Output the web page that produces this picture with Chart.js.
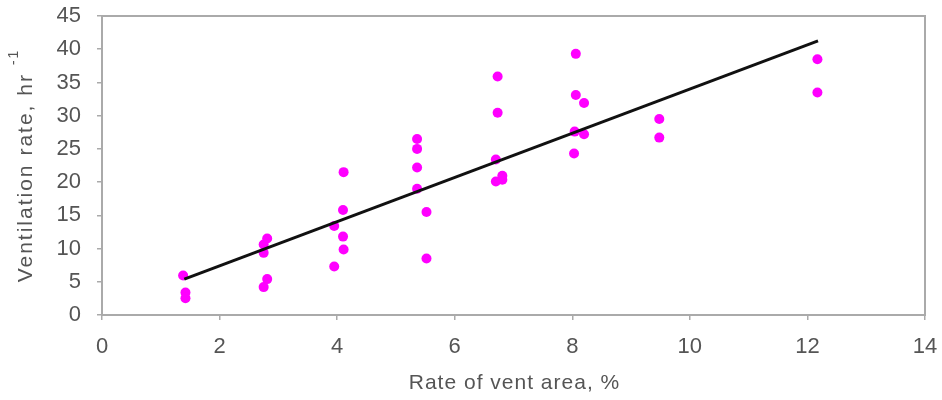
<!DOCTYPE html>
<html>
<head>
<meta charset="utf-8">
<script src="https://cdn.jsdelivr.net/npm/chart.js@4"></script>
<style>
  html, body { margin: 0; padding: 0; background: #fff; }
  #wrap { width: 942px; height: 400px; }
</style>
</head>
<body>
<div id="wrap"><canvas id="c" width="942" height="400"></canvas></div>
<script>
// Measured ventilation rate vs. rate of vent area
const ventArea = [1.38, 1.42, 1.42, 2.75, 2.81, 2.75, 2.75, 2.81, 3.95, 3.95, 4.11, 4.10, 4.10, 4.11,
                  5.36, 5.36, 5.36, 5.36, 5.52, 5.52, 6.73, 6.73, 6.70, 6.70, 6.81, 6.81,
                  8.06, 8.06, 8.20, 8.04, 8.20, 8.03, 9.48, 9.48, 12.17, 12.17];
const ventRate = [5.95, 3.38, 2.53, 4.2, 5.4, 9.35, 10.6, 11.5, 7.3, 13.4, 9.85, 11.8, 15.8, 21.5,
                  26.5, 25.0, 22.2, 19.0, 15.5, 8.5, 35.9, 30.45, 23.4, 20.1, 20.95, 20.35,
                  39.3, 33.1, 31.9, 27.6, 27.2, 24.3, 29.5, 26.7, 38.5, 33.5];

// Fitted regression line end points
const fitX = [1.40, 12.18];
const fitY = [5.4, 41.25];

const xTicks = [0, 2, 4, 6, 8, 10, 12, 14];
const yTicks = [0, 5, 10, 15, 20, 25, 30, 35, 40, 45];

const xTitle = 'Rate of vent area, %';
const yTitle = 'Ventilation rate, hr';
const yTitleSup = '-1';

const textColor = '#555';
const frameColor = '#aaa';
const fontFamily = '"Liberation Sans", Arial, sans-serif';

// Plot frame and axis titles (titles drawn by hand for the superscript unit)
const decorations = {
  id: 'decorations',
  afterDraw(chart) {
    const a = chart.chartArea, ctx = chart.ctx;
    ctx.save();
    ctx.strokeStyle = frameColor;
    ctx.lineWidth = 2;
    ctx.strokeRect(a.left, a.top, a.right - a.left, a.bottom - a.top);

    ctx.fillStyle = textColor;
    ctx.textBaseline = 'middle';
    ctx.letterSpacing = '1px';

    // x title
    ctx.font = '21px ' + fontFamily;
    ctx.textAlign = 'center';
    ctx.fillText(xTitle, (a.left + a.right) / 2 + 1, 383);

    // y title, rotated, with superscript
    ctx.letterSpacing = '2px';
    ctx.font = '21px ' + fontFamily;
    const wMain = ctx.measureText(yTitle).width;
    ctx.font = '14px ' + fontFamily;
    const wSup = ctx.measureText(yTitleSup).width;
    const gap = 8;
    const total = wMain + gap + wSup;
    ctx.translate(26, (a.top + a.bottom) / 2);
    ctx.rotate(-Math.PI / 2);
    ctx.textAlign = 'left';
    ctx.font = '21px ' + fontFamily;
    ctx.fillText(yTitle, -total / 2, 0);
    ctx.font = '14px ' + fontFamily;
    ctx.fillText(yTitleSup, -total / 2 + wMain + gap, -12);
    ctx.restore();
  }
};

new Chart(document.getElementById('c'), {
  type: 'scatter',
  data: {
    datasets: [
      {
        type: 'line',
        data: fitX.map((x, i) => ({ x, y: fitY[i] })),
        borderColor: '#111',
        borderWidth: 3,
        pointRadius: 0,
        fill: false,
        order: 1
      },
      {
        data: ventArea.map((x, i) => ({ x, y: ventRate[i] })),
        backgroundColor: '#ff00ff',
        borderColor: '#ff00ff',
        pointRadius: 5,
        borderWidth: 0,
        order: 2
      }
    ]
  },
  options: {
    responsive: false,
    animation: false,
    layout: { padding: { left: 6, top: 16, right: 17, bottom: 0 } },
    plugins: { legend: { display: false }, tooltip: { enabled: false } },
    scales: {
      x: {
        type: 'linear',
        min: 0, max: 14,
        afterBuildTicks(s) { s.ticks = xTicks.map(v => ({ value: v })); },
        afterFit(s) { s.height = 85; s.paddingLeft = 0; s.paddingRight = 0; },
        grid: { drawOnChartArea: false, tickLength: 5, color: frameColor, lineWidth: 1.5 },
        border: { display: false },
        ticks: { color: textColor, font: { family: fontFamily, size: 22 }, padding: 14 },
        title: { display: false }
      },
      y: {
        type: 'linear',
        min: 0, max: 45,
        afterBuildTicks(s) { s.ticks = yTicks.map(v => ({ value: v })); },
        afterFit(s) { s.width = 96; s.paddingTop = 0; s.paddingBottom = 0; },
        grid: { drawOnChartArea: false, tickLength: 5, color: frameColor, lineWidth: 1.5 },
        border: { display: false },
        ticks: { color: textColor, font: { family: fontFamily, size: 22 }, padding: 16 },
        title: { display: false }
      }
    }
  },
  plugins: [decorations]
});
</script>
</body>
</html>
